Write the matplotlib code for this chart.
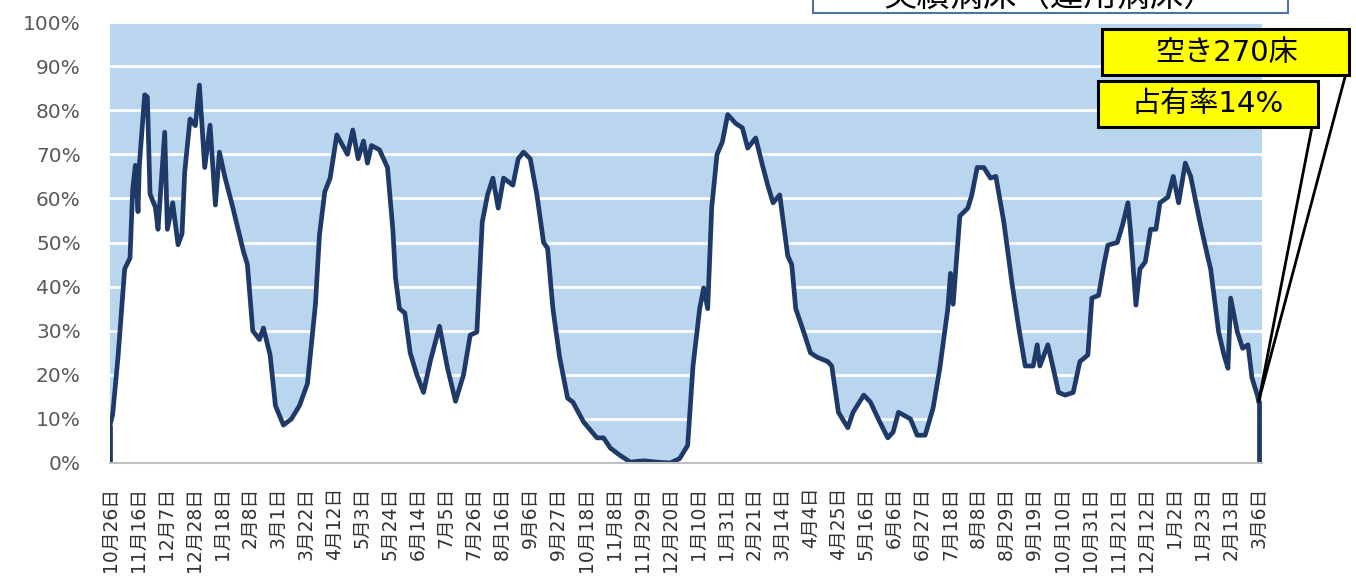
import pandas as pd
import matplotlib.pyplot as plt
from matplotlib.patches import Rectangle

plt.rcParams['font.family'] = ['DejaVu Sans', 'Noto Sans CJK JP']

# days since 2020-10-26 and bed occupancy (%)
start = pd.Timestamp('2020-10-26')
day = [0, 2, 6, 11, 15, 17, 19, 21, 22, 26, 28, 30, 34, 36, 41, 43, 47, 51, 54, 56,
       60, 64, 67, 71, 75, 79, 82, 86, 92, 96, 100, 103, 107, 112, 115, 120, 124, 130, 136, 142,
       148, 154, 157, 161, 165, 170, 178, 182, 186, 190, 193, 196, 202, 208, 212, 214, 217, 221, 225, 230,
       235, 240, 247, 253, 259, 265, 270, 275, 279, 283, 287, 291, 295, 302, 306, 310, 315, 320, 325, 328,
       332, 337, 343, 347, 355, 365, 370, 375, 382, 390, 400, 410, 420, 427, 433, 437, 442, 445, 448, 451,
       455, 459, 463, 469, 474, 478, 484, 489, 493, 497, 502, 508, 511, 514, 520, 525, 530, 538, 541, 546,
       553, 557, 565, 570, 577, 583, 587, 591, 600, 605, 611, 617, 622, 628, 630, 632, 637, 643, 646, 650,
       655, 660, 664, 670, 676, 681, 686, 692, 695, 697, 703, 707, 711, 716, 722, 727, 733, 736, 741, 745,
       748, 755, 759, 763, 765, 769, 772, 776, 780, 784, 787, 793, 797, 801, 806, 810, 817, 823, 825, 831,
       835, 838, 840, 845, 849, 853, 856, 860, 861]
occupancy = [8.6, 11, 24, 44, 46.5, 62, 67.5, 57, 67.5, 83.5, 83, 61, 58, 53, 75, 53, 59, 49.5, 52, 66,
             78, 76.5, 85.7, 67, 76.6, 58.5, 70.5, 65, 58, 53, 48, 45, 30, 28, 30.6, 24.5, 13, 8.6, 10, 13,
             18, 36, 51.7, 61.5, 64.6, 74.4, 70, 75.5, 69, 73, 68, 72, 71, 67, 53, 42, 35, 34, 25, 20,
             16, 23, 31, 21.5, 14, 20, 29, 29.7, 54.6, 60.8, 64.6, 57.8, 64.6, 63, 69, 70.5, 69, 60.8, 50, 48.7,
             35, 24, 14.7, 13.8, 9.3, 5.7, 5.7, 3.4, 1.8, 0.2, 0.5, 0.2, 0, 1, 4, 22, 35, 39.7, 35, 57.8,
             70, 72.8, 79, 77, 76, 71.4, 73.7, 67.6, 63, 59, 60.8, 47, 45, 35, 29.7, 25, 24, 23, 22, 11.5,
             8, 11.5, 15.4, 13.8, 9.3, 5.7, 7, 11.5, 10, 6.3, 6.3, 12.5, 21.5, 35, 43, 36, 56, 57.8, 60.8, 67,
             67, 64.6, 65, 54.6, 41, 31, 22, 22, 26.8, 22, 26.8, 21.5, 16, 15.4, 16, 23, 24.5, 37.4, 38, 45,
             49.4, 50, 54, 59, 52.4, 35.8, 44, 45.6, 53, 53, 59, 60.3, 65, 59, 68, 65, 54.6, 46.5, 44, 29.7,
             24.5, 21.5, 37.4, 29.7, 26, 26.8, 19.3, 15.4, 14]

tick_labels = ['10月26日', '11月16日', '12月7日', '12月28日', '1月18日', '2月8日', '3月1日',
               '3月22日', '4月12日', '5月3日', '5月24日', '6月14日', '7月5日', '7月26日',
               '8月16日', '9月6日', '9月27日', '10月18日', '11月8日', '11月29日', '12月20日',
               '1月10日', '1月31日', '2月21日', '3月14日', '4月4日', '4月25日', '5月16日',
               '6月6日', '6月27日', '7月18日', '8月8日', '8月29日', '9月19日', '10月10日',
               '10月31日', '11月21日', '12月12日', '1月2日', '1月23日', '2月13日', '3月6日']
y_ticks = [0, 10, 20, 30, 40, 50, 60, 70, 80, 90, 100]

title = '実績病床（運用病床）'
vacant_label = '空き270床'
rate_label = '占有率14%'

dates = start + pd.to_timedelta(day, unit='D')
tick_dates = pd.date_range(start, periods=len(tick_labels), freq='21D')

W, H = 1356, 582
navy = '#1f3a68'
fig = plt.figure(figsize=(W / 100, H / 100), dpi=100)
ax = fig.add_axes([110 / W, 1 - 463 / H, (1262 - 110) / W, (463 - 22) / H])
ax.set_facecolor('#bad6ef')

ax.fill_between(dates, occupancy, 0, color='white', lw=0, zorder=2)
ax.plot(dates, occupancy, color=navy, lw=3.4, zorder=3, solid_joinstyle='round')
ax.vlines([dates[0], dates[-1]], 0, [occupancy[0], occupancy[-1]], color=navy, lw=3.4, zorder=3)

ax.set_ylim(0, 100)
ax.set_xlim(start, start + pd.Timedelta(days=863.5))
ax.set_yticks(y_ticks)
ax.set_yticklabels([f'{v}%' for v in y_ticks], fontsize=14.5, color='#595959')
ax.set_xticks(tick_dates)
ax.set_xticklabels(tick_labels, rotation=90, fontsize=13.5, color='#333333')
ax.tick_params(axis='y', length=0, pad=21)
ax.tick_params(axis='x', direction='in', length=3, color='#bfbfbf', pad=17)
ax.grid(axis='y', color='white', lw=2)
ax.set_axisbelow(True)
for s in ['top', 'right', 'left']:
    ax.spines[s].set_visible(False)
ax.spines['bottom'].set_color('#bfbfbf')
ax.spines['bottom'].set_linewidth(1.5)
ax.spines['bottom'].set_zorder(4)

# title box, cut off at the top of the picture
fig.patches.append(Rectangle((813 / W, 1 - 13 / H), (1288 - 813) / W, 40 / H,
                             transform=fig.transFigure, facecolor='white',
                             edgecolor='#4a74a8', lw=1.5))
fig.text(1050 / W, 1 - 6 / H, title, ha='center', va='baseline', fontsize=24,
         family='Noto Sans CJK JP')

# callouts
for (x0, y0, x1, y1, tx, ty, label) in [(1102, 29, 1349, 75, 1227, 53, vacant_label),
                                         (1098, 81, 1318, 127, 1208, 104, rate_label)]:
    fig.patches.append(Rectangle((x0 / W, 1 - y1 / H), (x1 - x0) / W, (y1 - y0) / H,
                                 transform=fig.transFigure, facecolor='#ffff00',
                                 edgecolor='black', lw=2.2, zorder=5))
    fig.text(tx / W, 1 - ty / H, label, ha='center', va='center', fontsize=21, zorder=6)

for (lx, ly) in [(1345, 77), (1312, 127)]:
    ax.annotate('', xy=(dates[-1], occupancy[-1]), xycoords='data',
                xytext=(lx / W, 1 - ly / H), textcoords='figure fraction',
                arrowprops=dict(arrowstyle='-', color='black', lw=2, shrinkA=0, shrinkB=0),
                annotation_clip=False)

fig.savefig('out.png', dpi=100)
